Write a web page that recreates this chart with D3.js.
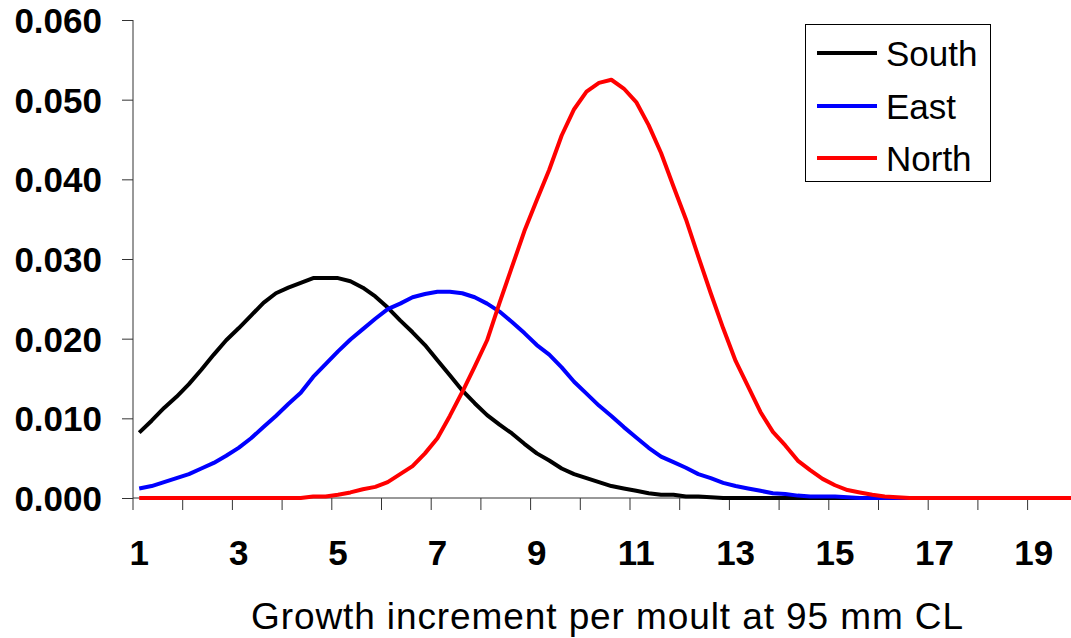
<!DOCTYPE html>
<html>
<head>
<meta charset="utf-8">
<script src="https://cdn.jsdelivr.net/npm/d3@7"></script>
<style>
  html, body { margin: 0; padding: 0; background: #fff; }
  svg { display: block; }
</style>
</head>
<body>
<svg id="chart" width="1071" height="638"></svg>
<script>
// Growth increment values, one every 0.25 from 1 to 20
const increments = d3.range(1, 20.001, 0.25);

const south = [
  0.0082, 0.0097, 0.0113, 0.0127, 0.0143, 0.0161, 0.0180, 0.0198,
  0.0213, 0.0229, 0.0245, 0.0257, 0.0264, 0.0270, 0.0276, 0.0276,
  0.0276, 0.0272, 0.0264, 0.0253, 0.0239, 0.0223, 0.0208, 0.0192,
  0.0173, 0.0154, 0.0135, 0.0119, 0.0104, 0.0092, 0.0081, 0.0068,
  0.0056, 0.0047, 0.0037, 0.0030, 0.0025, 0.0020, 0.0015, 0.0012,
  0.0009, 0.0006, 0.0004, 0.0004, 0.0002, 0.0002, 0.0001, 0.0000,
  0, 0, 0, 0, 0, 0, 0, 0, 0, 0, 0, 0, 0, 0, 0, 0, 0, 0, 0, 0, 0, 0, 0, 0, 0, 0, 0, 0, 0
];

const east = [
  0.0012, 0.0015, 0.0020, 0.0025, 0.0030, 0.0037, 0.0044, 0.0053,
  0.0063, 0.0075, 0.0089, 0.0103, 0.0118, 0.0132, 0.0152, 0.0168,
  0.0184, 0.0199, 0.0212, 0.0225, 0.0237, 0.0244, 0.0252, 0.0256,
  0.0259, 0.0259, 0.0257, 0.0252, 0.0244, 0.0234, 0.0221, 0.0207,
  0.0192, 0.0180, 0.0164, 0.0146, 0.0131, 0.0116, 0.0103, 0.0089,
  0.0076, 0.0063, 0.0052, 0.0045, 0.0038, 0.0030, 0.0025, 0.0019,
  0.0015, 0.0012, 0.0009, 0.0006, 0.0005, 0.0003, 0.0002, 0.0002,
  0.0002, 0.0001, 0, 0, 0, 0, 0, 0, 0, 0, 0, 0, 0, 0, 0, 0, 0, 0, 0, 0, 0
];

const north = [
  0, 0, 0, 0, 0, 0, 0, 0,
  0, 0, 0, 0, 0, 0, 0.0002, 0.0002,
  0.0004, 0.0007, 0.0011, 0.0014, 0.0020, 0.0030, 0.0040, 0.0056,
  0.0075, 0.0103, 0.0133, 0.0165, 0.0198, 0.0245, 0.0290, 0.0335,
  0.0374, 0.0412, 0.0455, 0.0488, 0.0510, 0.0521, 0.0525, 0.0514,
  0.0497, 0.0468, 0.0433, 0.0391, 0.0350, 0.0303, 0.0257, 0.0213,
  0.0172, 0.0140, 0.0108, 0.0083, 0.0066, 0.0047, 0.0035, 0.0024,
  0.0016, 0.0010, 0.0007, 0.0004, 0.0002, 0.0001, 0, 0, 0, 0, 0, 0, 0, 0, 0, 0, 0, 0, 0, 0, 0
];

const seriesNames = ["South", "East", "North"];
const seriesColors = ["#000000", "#0000ff", "#ff0000"];
const yTickValues = [0, 0.01, 0.02, 0.03, 0.04, 0.05, 0.06];
const xLabelValues = [1, 3, 5, 7, 9, 11, 13, 15, 17, 19];
const xTitle = "Growth increment per moult at 95 mm CL";

const series = [south, east, north].map((vals, i) => ({
  name: seriesNames[i],
  color: seriesColors[i],
  points: increments.map((x, j) => ({ x, y: vals[j] }))
}));

const svg = d3.select("#chart");
const plotLeft = 133, plotBottom = 498, plotTop = 20;
const font = "Liberation Sans, Arial, sans-serif";

// Category-style axis: each 0.25 step occupies one slot, points sit mid-slot
const x = d3.scaleLinear().domain([0.875, 20.125]).range([plotLeft, plotLeft + 19.25 * 49.7]);
const y = d3.scaleLinear().domain([0, 0.06]).range([plotBottom, plotTop]);

// Y axis
const yAxis = svg.append("g")
  .attr("transform", `translate(${plotLeft},0)`)
  .call(d3.axisLeft(y).tickValues(yTickValues).tickFormat(d3.format(".3f")).tickSize(11).tickPadding(20));
yAxis.select(".domain").attr("stroke", "#333").attr("d", `M0,${plotTop}V${plotBottom}`);
yAxis.selectAll(".tick line").attr("stroke", "#333");
yAxis.selectAll(".tick text")
  .attr("font-family", font)
  .attr("font-weight", "bold")
  .attr("font-size", 35)
  .attr("fill", "#000")
  .attr("dy", "0.36em");

// X axis: tick marks on slot boundaries, labels on odd values
const xTickMarks = d3.range(0.875, 20.2, 1);
const xAxis = svg.append("g")
  .attr("transform", `translate(0,${plotBottom})`);
xAxis.append("path")
  .attr("stroke", "#333")
  .attr("d", `M${plotLeft},0H1071`);
xAxis.selectAll("line.tick")
  .data(xTickMarks)
  .join("line")
  .attr("class", "tick")
  .attr("x1", d => x(d)).attr("x2", d => x(d))
  .attr("y1", 0).attr("y2", 12)
  .attr("stroke", "#333");
xAxis.selectAll("text.lbl")
  .data(xLabelValues)
  .join("text")
  .attr("class", "lbl")
  .attr("x", d => x(d))
  .attr("y", 67)
  .attr("text-anchor", "middle")
  .attr("font-family", font)
  .attr("font-weight", "bold")
  .attr("font-size", 35)
  .text(d => d);

// Axis title
svg.append("text")
  .attr("x", 607)
  .attr("y", 629)
  .attr("text-anchor", "middle")
  .attr("font-family", font)
  .attr("font-size", 37)
  .attr("textLength", 712)
  .attr("lengthAdjust", "spacing")
  .text(xTitle);

// Lines
const line = d3.line().x(d => x(d.x)).y(d => y(d.y));
svg.append("g")
  .selectAll("path")
  .data(series)
  .join("path")
  .attr("fill", "none")
  .attr("stroke", d => d.color)
  .attr("stroke-width", 4)
  .attr("stroke-linejoin", "round")
  .attr("d", d => line(d.points));

// Legend
const legend = svg.append("g");
legend.append("rect")
  .attr("x", 805.5).attr("y", 24.5)
  .attr("width", 185).attr("height", 157)
  .attr("fill", "#fff")
  .attr("stroke", "#000")
  .attr("stroke-width", 1);
const rowY = [53, 106, 158];
const rows = legend.selectAll("g.row")
  .data(series)
  .join("g")
  .attr("class", "row")
  .attr("transform", (d, i) => `translate(0,${rowY[i]})`);
rows.append("line")
  .attr("x1", 817).attr("x2", 877)
  .attr("stroke", d => d.color)
  .attr("stroke-width", 4);
rows.append("text")
  .attr("x", 886)
  .attr("dy", "0.36em")
  .attr("font-family", font)
  .attr("font-size", 35)
  .text(d => d.name);
</script>
</body>
</html>
